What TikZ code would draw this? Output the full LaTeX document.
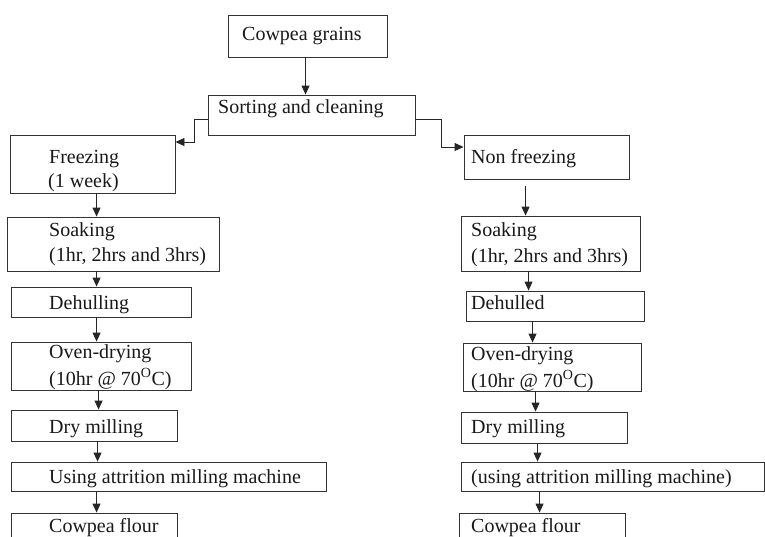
\documentclass[tikz,border=0pt]{standalone}
\usepackage{fontspec}
\setmainfont{Liberation Serif}
\usetikzlibrary{arrows.meta}
\tikzset{
  box/.style={draw=black!80, line width=0.9pt, rectangle, inner sep=0pt},
  txt/.style={anchor=base west, inner sep=0pt, font=\fontsize{20}{24}\selectfont, text=black!90},
  arr/.style={draw=black!85, line width=0.9pt, -{Triangle[length=9pt,width=8pt]}},
}
\newcommand\bx[5]{\node[box, minimum width={(#4-#2)*1pt}, minimum height={(#5-#3)*1pt}] (#1) at ({(#2+#4)/2},{(#3+#5)/2}) {};}
\newcommand\vconn[3]{\path (#1.south west) ++(#3,0) coordinate (tmp#1); \draw[arr] (tmp#1) -- (tmp#1 |- #2.north);}
\begin{document}
\begin{tikzpicture}[x=1pt,y=-1pt]
\useasboundingbox (0,0) rectangle (765,536);
\clip (0,0) rectangle (765,536);
\fill[white] (0,0) rectangle (765,536);
% boxes
\bx{cg}{228}{15}{387}{57}
\bx{sc}{208}{95}{415}{135}
\bx{fz}{10}{135}{175}{193}
\bx{nf}{464}{135}{629}{179}
\bx{sk}{7}{217}{219}{271}
\bx{sr}{461}{216}{640}{271}
\bx{dh}{11}{287}{191}{317}
\bx{dhr}{466}{291}{644}{321}
\bx{od}{11}{342}{191}{390}
\bx{odr}{463}{343}{641}{391}
\bx{dm}{11}{410}{177}{441}
\bx{dmr}{461}{412}{627}{443}
\bx{us}{11}{462}{326}{491}
\bx{usr}{461}{462}{764}{491}
\bx{cf}{11}{513}{177}{560}
\bx{cfr}{459}{513}{625}{560}
% texts
\node[txt] (cgA) at (242,40) {Cowpea grains};
\node[txt] (scA) at (218,113) {Sorting and cleaning};
\node[txt] (fzA) at (49,163) {Freezing};
\node[txt] (fzB) at (48,187) {(1 week)};
\node[txt] (nfA) at (471,163) {Non freezing};
\node[txt] (skA) at (49,236) {Soaking};
\node[txt] (skB) at (49,261) {(1hr, 2hrs and 3hrs)};
\node[txt] (srA) at (471,236) {Soaking};
\node[txt] (srB) at (471,262) {(1hr, 2hrs and 3hrs)};
\node[txt] (dhA) at (49,309) {Dehulling};
\node[txt] (dhrA) at (471,309) {Dehulled};
\node[txt] (odA) at (49,358) {Oven-drying};
\node[txt] (odB) at (49,385) {(10hr @ 70\textsuperscript{O}C)};
\node[txt] (odrA) at (471,360) {Oven-drying};
\node[txt] (odrB) at (471,387) {(10hr @ 70\textsuperscript{O}C)};
\node[txt] (dmA) at (49,433) {Dry milling};
\node[txt] (dmrA) at (471,433) {Dry milling};
\node[txt] (usA) at (49,483) {Using attrition milling machine};
\node[txt] (usrA) at (471,483) {(using attrition milling machine)};
\node[txt] (cfA) at (49,532) {Cowpea flour};
\node[txt] (cfrA) at (471,532) {Cowpea flour};
% connectors
\vconn{cg}{sc}{78}
\draw[arr] ([yshift=-4pt]sc.west) -- ++(-13,0) |- ([yshift=22pt]fz.east);
\draw[arr] ([yshift=-4pt]sc.east) -- ++(26,0) |- ([yshift=10pt]nf.west);
\vconn{fz}{sk}{87}
\vconn{sk}{dh}{90}
\vconn{dh}{od}{86}
\vconn{od}{dm}{88}
\vconn{dm}{us}{87}
\vconn{us}{cf}{86}
\path (nf.south west) ++(62,7) coordinate (tmpnf2);
\draw[arr] (tmpnf2) -- (tmpnf2 |- sr.north);
\vconn{sr}{dhr}{68}
\vconn{dhr}{odr}{67}
\vconn{odr}{dmr}{73}
\vconn{dmr}{usr}{77}
\vconn{usr}{cfr}{79}
\end{tikzpicture}
\end{document}
